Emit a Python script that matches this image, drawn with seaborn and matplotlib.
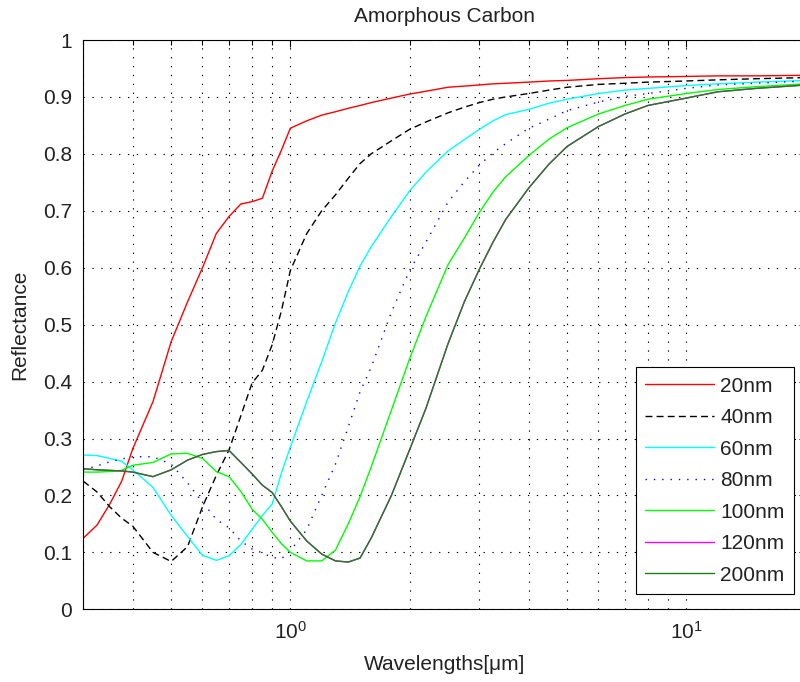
import numpy as np
import pandas as pd
import matplotlib
matplotlib.use("Agg")
import matplotlib.pyplot as plt
from matplotlib.ticker import LogLocator, FixedLocator, FormatStrFormatter, NullFormatter
import seaborn as sns

# Wavelength grid (µm) shared by every film thickness
wavelength = [0.300, 0.325, 0.35, 0.375, 0.40, 0.45, 0.50, 0.55, 0.60, 0.65,
              0.70, 0.75, 0.80, 0.85, 0.90, 0.95, 1.00, 1.10, 1.20, 1.30,
              1.40, 1.50, 1.60, 1.80, 2.00, 2.20, 2.50, 2.75, 3.00, 3.25,
              3.50, 4.00, 4.50, 5.00, 6.00, 7.00, 8.00, 10.0, 12.0, 15.0, 20.0]

# Reflectance of amorphous carbon films of various thicknesses
r_20nm = [0.125, 0.148, 0.185, 0.225, 0.282, 0.365, 0.470, 0.540, 0.600, 0.660,
          0.690, 0.712, 0.716, 0.722, 0.770, 0.807, 0.845, 0.858, 0.868, 0.874,
          0.880, 0.885, 0.890, 0.898, 0.905, 0.910, 0.917, 0.919, 0.921, 0.923,
          0.924, 0.926, 0.928, 0.929, 0.932, 0.934, 0.935, 0.936, 0.937, 0.937, 0.938]
r_40nm = [0.225, 0.206, 0.180, 0.160, 0.146, 0.100, 0.084, 0.110, 0.180, 0.235,
          0.280, 0.340, 0.397, 0.420, 0.465, 0.525, 0.595, 0.660, 0.700, 0.728,
          0.757, 0.783, 0.800, 0.823, 0.843, 0.856, 0.872, 0.882, 0.890, 0.896,
          0.900, 0.906, 0.912, 0.917, 0.922, 0.924, 0.926, 0.928, 0.930, 0.932, 0.934]
r_60nm = [0.271, 0.270, 0.265, 0.260, 0.245, 0.214, 0.165, 0.128, 0.095, 0.086,
          0.094, 0.114, 0.140, 0.165, 0.185, 0.240, 0.285, 0.365, 0.435, 0.503,
          0.558, 0.603, 0.637, 0.690, 0.735, 0.768, 0.805, 0.825, 0.843, 0.858,
          0.869, 0.878, 0.889, 0.896, 0.906, 0.912, 0.915, 0.920, 0.923, 0.926, 0.929]
r_80nm = [0.245, 0.252, 0.259, 0.264, 0.268, 0.268, 0.255, 0.222, 0.188, 0.158,
          0.143, 0.120, 0.106, 0.099, 0.091, 0.089, 0.103, 0.140, 0.200, 0.255,
          0.320, 0.382, 0.425, 0.522, 0.595, 0.645, 0.715, 0.751, 0.780, 0.802,
          0.818, 0.845, 0.861, 0.876, 0.891, 0.901, 0.906, 0.915, 0.921, 0.924, 0.928]
r_100nm = [0.241, 0.241, 0.242, 0.244, 0.253, 0.258, 0.273, 0.274, 0.265, 0.242,
           0.233, 0.207, 0.176, 0.158, 0.135, 0.115, 0.100, 0.085, 0.085, 0.104,
           0.150, 0.198, 0.250, 0.350, 0.440, 0.514, 0.605, 0.652, 0.697, 0.733,
           0.760, 0.797, 0.826, 0.846, 0.870, 0.885, 0.896, 0.906, 0.913, 0.918, 0.923]
r_200nm = [0.247, 0.245, 0.244, 0.243, 0.241, 0.233, 0.245, 0.262, 0.272, 0.277,
           0.279, 0.258, 0.238, 0.218, 0.205, 0.180, 0.155, 0.120, 0.097, 0.085,
           0.083, 0.090, 0.125, 0.200, 0.280, 0.353, 0.466, 0.540, 0.597, 0.645,
           0.685, 0.740, 0.782, 0.813, 0.848, 0.870, 0.885, 0.898, 0.909, 0.915, 0.921]
# the 120 nm trace coincides with the 200 nm one and is drawn underneath it
r_120nm = list(r_200nm)

labels = ["20nm", "40nm", "60nm", "80nm", "100nm", "120nm", "200nm"]
series = [r_20nm, r_40nm, r_60nm, r_80nm, r_100nm, r_120nm, r_200nm]
colors = ["#ff0000", "#000000", "#00ffff", "#0000ff", "#00ff00", "#ff00ff", "#1a801a"]
styles = ["-", (0, (5, 3)), "-", (0, (1, 5)), "-", "-", "-"]

y_ticks = [0, 0.1, 0.2, 0.3, 0.4, 0.5, 0.6, 0.7, 0.8, 0.9, 1.0]

sns.set_theme(style="white")
plt.rcParams["font.family"] = ["Liberation Sans", "DejaVu Sans"]
plt.rcParams["mathtext.default"] = "regular"

FS = 15
TXT = "#222222"

fig = plt.figure(figsize=(8.0, 6.82), dpi=100)
ax = fig.add_axes([83.3 / 800, (682 - 609.3) / 682, 722.2 / 800, 569.3 / 682])

for lab, vals, col, ls in zip(labels, series, colors, styles):
    df = pd.DataFrame({"wavelength": wavelength, "reflectance": vals})
    sns.lineplot(data=df, x="wavelength", y="reflectance", ax=ax, color=col,
                 linestyle=ls, linewidth=1.0, label=lab, estimator=None, sort=True)

ax.set_xscale("log")
ax.set_xlim(0.3, 20)
ax.set_ylim(0, 1)
ax.yaxis.set_major_locator(FixedLocator(y_ticks))
ax.yaxis.set_major_formatter(FormatStrFormatter("%g"))
ax.xaxis.set_major_locator(LogLocator(base=10, numticks=10))
ax.xaxis.set_minor_locator(LogLocator(base=10, subs=np.arange(2, 10), numticks=20))
ax.xaxis.set_minor_formatter(NullFormatter())

grid_kw = dict(color="black", linestyle=(0, (1.2, 6.8)), linewidth=0.8)
ax.grid(True, which="major", axis="both", **grid_kw)
ax.grid(True, which="minor", axis="x", **grid_kw)

for sp in ax.spines.values():
    sp.set_color("black")
    sp.set_linewidth(0.8)

ax.tick_params(which="both", direction="in", top=True, right=True,
               color="black", width=0.8, labelsize=FS, labelcolor=TXT)
ax.tick_params(which="major", length=5, pad=8)
ax.tick_params(which="minor", length=3.5)

ax.set_title("Amorphous Carbon", fontsize=FS, color=TXT, pad=13)
ax.set_xlabel("Wavelengths[μm]", fontsize=FS, color=TXT, labelpad=9)
ax.set_ylabel("Reflectance", fontsize=FS, color=TXT, labelpad=10)

leg = ax.legend(loc="lower right", bbox_to_anchor=(794 / 800, 88 / 682),
                bbox_transform=fig.transFigure, borderaxespad=0,
                fontsize=FS, frameon=True, fancybox=False, framealpha=1,
                edgecolor="black", handlelength=3.3, handletextpad=0.3,
                labelspacing=0.6, borderpad=0.45)
leg.get_frame().set_linewidth(0.8)
for t in leg.get_texts():
    t.set_color(TXT)

fig.savefig("out.png", dpi=100)
